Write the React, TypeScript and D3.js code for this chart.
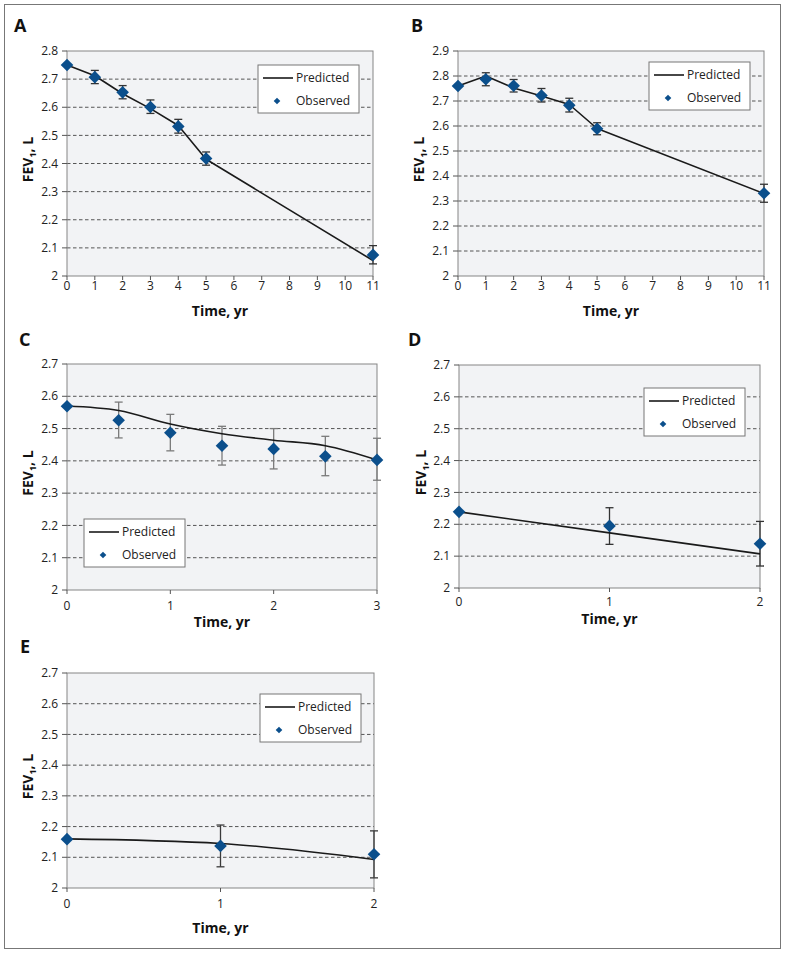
import React from "react";
import * as d3 from "d3";

// ---------- DATA ----------
const aTime = [0, 1, 2, 3, 4, 5, 11];
const aObserved = [2.75, 2.707, 2.653, 2.601, 2.532, 2.418, 2.075];
const aErrLow = [NaN, 2.684, 2.630, 2.578, 2.508, 2.394, 2.043];
const aErrHigh = [NaN, 2.731, 2.677, 2.626, 2.557, 2.441, 2.108];
const aPredicted = [2.75, 2.712, 2.648, 2.595, 2.535, 2.415, 2.055];
const aXTicks = [0, 1, 2, 3, 4, 5, 6, 7, 8, 9, 10, 11];

const bTime = [0, 1, 2, 3, 4, 5, 11];
const bObserved = [2.76, 2.787, 2.761, 2.722, 2.683, 2.589, 2.331];
const bErrLow = [NaN, 2.761, 2.736, 2.696, 2.656, 2.565, 2.295];
const bErrHigh = [NaN, 2.813, 2.786, 2.750, 2.711, 2.613, 2.367];
const bPredicted = [2.76, 2.80, 2.752, 2.72, 2.686, 2.59, 2.33];
const bXTicks = [0, 1, 2, 3, 4, 5, 6, 7, 8, 9, 10, 11];

const cTime = [0, 0.5, 1, 1.5, 2, 2.5, 3];
const cObserved = [2.569, 2.526, 2.487, 2.447, 2.437, 2.414, 2.403];
const cErrLow = [NaN, 2.471, 2.431, 2.387, 2.375, 2.354, 2.340];
const cErrHigh = [NaN, 2.582, 2.544, 2.507, 2.500, 2.476, 2.470];
const cPredicted = [2.57, 2.556, 2.514, 2.484, 2.464, 2.447, 2.403];
const cXTicks = [0, 1, 2, 3];

const dTime = [0, 1, 2];
const dObserved = [2.239, 2.195, 2.139];
const dErrLow = [NaN, 2.137, 2.069];
const dErrHigh = [NaN, 2.252, 2.209];
const dPredicted = [2.239, 2.173, 2.107];
const dXTicks = [0, 1, 2];

const eTime = [0, 1, 2];
const eObserved = [2.159, 2.137, 2.110];
const eErrLow = [NaN, 2.069, 2.033];
const eErrHigh = [NaN, 2.205, 2.186];
const ePredicted = [2.16, 2.145, 2.093];
const eXTicks = [0, 1, 2];

const legendLabels = ["Predicted", "Observed"];
const xAxisTitle = "Time, yr";

// ---------- LAYOUT ----------
const FONT = "'Open Sans', 'Noto Sans', Arial, sans-serif";
const MARKER = "#0b4f8c";
const BG = "#f2f3f5";
const AXIS = "#858585";

type PanelCfg = {
  id: string;
  time: number[];
  observed: number[];
  errLow: number[];
  errHigh: number[];
  predicted: number[];
  xTicks: number[];
  yMax: number;
  smooth: boolean;
  left: number; top: number; right: number; bottom: number;
  labelX: number; labelY: number;
  legX: number; legY: number;
  xLabelDy: number; xTitleDy: number; yTitleX: number;
  errColor: string;
};

const panels: PanelCfg[] = [
  { id: "A", time: aTime, observed: aObserved, errLow: aErrLow, errHigh: aErrHigh, predicted: aPredicted, xTicks: aXTicks, yMax: 2.8, smooth: false,
    left: 67, top: 51, right: 373, bottom: 276, labelX: 14, labelY: 32, legX: 258, legY: 65, xLabelDy: 14, xTitleDy: 40, yTitleX: 33, errColor: "#333" },
  { id: "B", time: bTime, observed: bObserved, errLow: bErrLow, errHigh: bErrHigh, predicted: bPredicted, xTicks: bXTicks, yMax: 2.9, smooth: false,
    left: 458, top: 51, right: 764, bottom: 276, labelX: 411, labelY: 32, legX: 649, legY: 62, xLabelDy: 14, xTitleDy: 40, yTitleX: 424, errColor: "#333" },
  { id: "C", time: cTime, observed: cObserved, errLow: cErrLow, errHigh: cErrHigh, predicted: cPredicted, xTicks: cXTicks, yMax: 2.7, smooth: true,
    left: 67, top: 364, right: 377, bottom: 590, labelX: 19, labelY: 346, legX: 84, legY: 519, xLabelDy: 20, xTitleDy: 37, yTitleX: 33, errColor: "#7a7a7a" },
  { id: "D", time: dTime, observed: dObserved, errLow: dErrLow, errHigh: dErrHigh, predicted: dPredicted, xTicks: dXTicks, yMax: 2.7, smooth: false,
    left: 459, top: 365, right: 760, bottom: 588, labelX: 408, labelY: 346, legX: 644, legY: 388, xLabelDy: 18, xTitleDy: 36, yTitleX: 426, errColor: "#333" },
  { id: "E", time: eTime, observed: eObserved, errLow: eErrLow, errHigh: eErrHigh, predicted: ePredicted, xTicks: eXTicks, yMax: 2.7, smooth: true,
    left: 67, top: 673, right: 374, bottom: 888, labelX: 20, labelY: 653, legX: 260, legY: 694, xLabelDy: 20, xTitleDy: 45, yTitleX: 33, errColor: "#3a3a3a" },
];

const diamond = (r: number) => `M0,${-r}L${r},0L0,${r}L${-r},0Z`;

function Panel({ p }: { p: PanelCfg }) {
  const x = d3.scaleLinear().domain([0, p.time[p.time.length - 1]]).range([p.left, p.right]);
  const y = d3.scaleLinear().domain([2, p.yMax]).range([p.bottom, p.top]);
  const yTicks = d3.range(0, Math.round((p.yMax - 2) * 10) + 1).map((i) => +(2 + i * 0.1).toFixed(1));
  const line = d3
    .line<number>()
    .x((_, i) => x(p.time[i]))
    .y((v) => y(v))
    .curve(p.smooth ? d3.curveMonotoneX : d3.curveLinear);
  const legW = 101;
  const legH = 48;
  return (
    <g>
      <text x={p.labelX} y={p.labelY} fontFamily={FONT} fontWeight={700} fontSize={18} fill="#111">
        {p.id}
      </text>
      <rect x={p.left} y={p.top} width={p.right - p.left} height={p.bottom - p.top} fill={BG} stroke="none" />
      {yTicks.filter((t) => t > 2 && t < p.yMax - 1e-9).map((t) => (
        <line key={"g" + t} x1={p.left} x2={p.right} y1={y(t)} y2={y(t)} stroke="#555" strokeWidth={1} strokeDasharray="3.5,2.5" />
      ))}
      <rect x={p.left} y={p.top} width={p.right - p.left} height={p.bottom - p.top} fill="none" stroke={AXIS} strokeWidth={1} />
      {yTicks.map((t) => (
        <g key={"y" + t}>
          <line x1={p.left - 5} x2={p.left} y1={y(t)} y2={y(t)} stroke="#555" />
          <text x={p.left - 9} y={y(t)} dy="0.35em" textAnchor="end" fontFamily={FONT} fontSize={12} fill="#222">
            {String(t)}
          </text>
        </g>
      ))}
      {p.xTicks.map((t) => (
        <g key={"x" + t}>
          <line x1={x(t)} x2={x(t)} y1={p.bottom} y2={p.bottom + 4} stroke="#555" />
          <text x={x(t)} y={p.bottom + p.xLabelDy} textAnchor="middle" fontFamily={FONT} fontSize={12} fill="#222">
            {String(t)}
          </text>
        </g>
      ))}
      <text x={(p.left + p.right) / 2} y={p.bottom + p.xTitleDy} textAnchor="middle" fontFamily={FONT} fontWeight={700} fontSize={14} fill="#111">
        {xAxisTitle}
      </text>
      <text
        transform={`translate(${p.yTitleX},${(p.top + p.bottom) / 2 - 4}) rotate(-90)`}
        textAnchor="middle"
        fontFamily={FONT}
        fontWeight={700}
        fontSize={14}
        fill="#111"
      >
        FEV<tspan fontSize={9} dy="3">1</tspan>
        <tspan dy="-3">, L</tspan>
      </text>
      {/* error bars */}
      {p.time.map((t, i) =>
        isNaN(p.errLow[i]) ? null : (
          <g key={"e" + i} stroke={p.errColor} strokeWidth={1.3}>
            <line x1={x(t)} x2={x(t)} y1={y(p.errLow[i])} y2={y(p.errHigh[i])} />
            <line x1={x(t) - 4} x2={x(t) + 4} y1={y(p.errLow[i])} y2={y(p.errLow[i])} />
            <line x1={x(t) - 4} x2={x(t) + 4} y1={y(p.errHigh[i])} y2={y(p.errHigh[i])} />
          </g>
        )
      )}
      <path d={line(p.predicted) || ""} fill="none" stroke="#1a1a1a" strokeWidth={1.6} strokeLinejoin="round" />
      {p.time.map((t, i) => (
        <path key={"m" + i} d={diamond(6.3)} transform={`translate(${x(t)},${y(p.observed[i])})`} fill={MARKER} />
      ))}
      {/* legend */}
      <g transform={`translate(${p.legX},${p.legY})`}>
        <rect x={0} y={0} width={legW} height={legH} fill="#fff" stroke="#777" strokeWidth={1} />
        <line x1={5} x2={35} y1={13} y2={13} stroke="#1a1a1a" strokeWidth={1.6} />
        <text x={38} y={13} dy="0.35em" fontFamily={FONT} fontSize={12} fill="#222">
          {legendLabels[0]}
        </text>
        <path d={diamond(3.3)} transform="translate(19,36)" fill={MARKER} />
        <text x={38} y={36} dy="0.35em" fontFamily={FONT} fontSize={12} fill="#222">
          {legendLabels[1]}
        </text>
      </g>
    </g>
  );
}

export default function App() {
  return (
    <svg width={786} height={953} style={{ position: "absolute", left: 0, top: 0, background: "#fff" }}>
      <rect x={4.5} y={4.5} width={776} height={944} fill="none" stroke="#777" strokeWidth={1} />
      {panels.map((p) => (
        <Panel key={p.id} p={p} />
      ))}
    </svg>
  );
}
